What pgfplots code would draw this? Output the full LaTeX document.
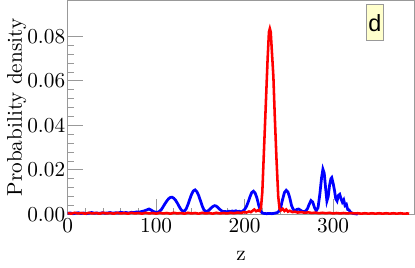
\documentclass[border=0pt]{standalone}
\usepackage{fontspec}
\usepackage{pgfplots}
\pgfplotsset{compat=1.18}
\newfontfamily\arialfont{Liberation Sans}
\definecolor{framegray}{gray}{0.6}
\definecolor{labelbg}{rgb}{1,1,0.8}
\begin{document}
\begin{tikzpicture}
\begin{axis}[
  scale only axis,
  width=163pt, height=100.5pt,
  xmin=0, xmax=392, ymin=0, ymax=0.0961,
  axis line style={framegray, line width=0.5pt},
  xtick={0,100,200,300},
  ytick={0,0.02,0.04,0.06,0.08},
  minor tick num=4,
  tick align=inside,
  xtick pos=left, ytick pos=left,
  tick style={framegray, line width=0.4pt},
  major tick length=7.3pt,
  minor tick length=2.8pt,
  scaled y ticks=false,
  yticklabel style={/pgf/number format/.cd, fixed, fixed zerofill, precision=2, /tikz/.cd, inner xsep=1pt},
  xticklabel style={inner ysep=2pt},
  xlabel={z},
  ylabel={Probability density},
  xlabel style={yshift=-3pt},
  ylabel style={yshift=-4pt},
  clip=false,
]
\addplot[blue, line width=1.3pt] coordinates {
(0,0.0004)(3,0.0006)(6,0.0003)(9,0.0005)(12,0.0007)(15,0.0004)(18,0.0006)(21,0.0003)(24,0.0005)(27,0.0008)(30,0.0005)(33,0.0006)(36,0.0004)(39,0.0007)(42,0.0005)(45,0.0006)(48,0.0008)(51,0.0005)(54,0.0007)(57,0.0006)(60,0.0009)(63,0.0007)(66,0.0008)(69,0.0006)(72,0.0009)(75,0.0008)(78,0.0011)(81,0.0010)(84,0.0013)(87,0.0016)(90,0.0021)(92,0.0024)(94,0.0020)(96,0.0015)(98,0.0011)(100,0.0009)(102,0.0010)(104,0.0014)(106,0.0022)(108,0.0035)(110,0.0048)(112,0.0060)(114,0.0070)(116,0.0076)(118,0.0077)(120,0.0072)(122,0.0063)(124,0.0050)(126,0.0035)(128,0.0022)(130,0.0014)(132,0.0015)(134,0.0025)(136,0.0045)(138,0.0068)(140,0.0090)(142,0.0105)(144,0.0110)(146,0.0102)(148,0.0085)(150,0.0062)(152,0.0038)(154,0.0020)(156,0.0013)(158,0.0014)(160,0.0020)(162,0.0028)(164,0.0035)(166,0.0039)(168,0.0037)(170,0.0030)(172,0.0022)(174,0.0016)(176,0.0012)(178,0.0013)(180,0.0011)(182,0.0014)(184,0.0012)(186,0.0015)(188,0.0013)(190,0.0016)(192,0.0012)(194,0.0014)(196,0.0011)(198,0.0015)(200,0.0022)(202,0.0035)(204,0.0055)(206,0.0078)(208,0.0098)(210,0.0104)(212,0.0095)(214,0.0072)(216,0.0040)(218,0.0015)(220,0.0006)(222,0.0004)(225,0.0003)(228,0.0004)(231,0.0003)(234,0.0005)(237,0.0008)(239,0.0015)(241,0.0035)(243,0.0068)(245,0.0098)(247,0.0108)(249,0.0100)(251,0.0075)(253,0.0040)(255,0.0022)(257,0.0016)(259,0.0022)(261,0.0024)(263,0.0019)(265,0.0014)(267,0.0012)(269,0.0015)(271,0.0025)(273,0.0045)(275,0.0062)(277,0.0055)(279,0.0030)(281,0.0016)(283,0.0030)(285,0.0090)(287,0.0165)(288.5,0.0203)(290,0.0185)(291.5,0.0120)(293,0.0060)(294.5,0.0080)(296,0.0130)(297.5,0.0160)(298.5,0.0165)(300,0.0140)(301.5,0.0110)(303,0.0070)(304.5,0.0060)(306,0.0085)(307.5,0.0090)(309,0.0070)(310.5,0.0055)(312,0.0065)(313.5,0.0040)(315,0.0045)(316.5,0.0022)(318,0.0020)(320,0.0008)(323,0.0004)(326,0.0002)(328,0.0001)
};
\addplot[red, line width=1.2pt] coordinates {
(0,0.0006)(4,0.0003)(8,0.0007)(12,0.0004)(16,0.0006)(20,0.0003)(24,0.0007)(28,0.0004)(32,0.0006)(36,0.0003)(40,0.0007)(44,0.0004)(48,0.0006)(52,0.0003)(56,0.0007)(60,0.0004)(64,0.0006)(68,0.0003)(72,0.0007)(76,0.0004)(80,0.0006)(84,0.0003)(88,0.0007)(92,0.0004)(96,0.0006)(100,0.0003)(104,0.0007)(108,0.0004)(112,0.0006)(116,0.0003)(120,0.0007)(124,0.0004)(128,0.0006)(132,0.0003)(136,0.0007)(140,0.0004)(144,0.0006)(148,0.0003)(152,0.0007)(156,0.0004)(160,0.0006)(164,0.0003)(168,0.0007)(172,0.0004)(176,0.0006)(180,0.0004)(184,0.0007)(188,0.0005)(192,0.0008)(196,0.0006)(199,0.0010)(202,0.0008)(205,0.0013)(207,0.0010)(209,0.0016)(211,0.0022)(213,0.0014)(215,0.0018)(217,0.0015)(218.5,0.0030)(220,0.0100)(222,0.0300)(224,0.0500)(226,0.0700)(227.5,0.0820)(228.5,0.0835)(229.5,0.0820)(231,0.0720)(232.5,0.0620)(234,0.0450)(236,0.0250)(238,0.0080)(239.5,0.0025)(241,0.0018)(243,0.0025)(245,0.0015)(247,0.0022)(249,0.0012)(251,0.0016)(254,0.0010)(257,0.0012)(260,0.0008)(264,0.0010)(268,0.0007)(272,0.0009)(276,0.0006)(280,0.0008)(284,0.0005)(288,0.0007)(292,0.0005)(296,0.0007)(300,0.0004)(304,0.0006)(308,0.0004)(312,0.0006)(316,0.0004)(320,0.0006)(324,0.0004)(328,0.0005)(332,0.0003)(336,0.0005)(340,0.0003)(344,0.0005)(348,0.0003)(352,0.0005)(356,0.0003)(360,0.0005)(364,0.0003)(368,0.0005)(372,0.0003)(376,0.0005)(380,0.0003)(384,0.0004)(386,0.0003)
};
\node[draw=framegray, fill=labelbg, font=\arialfont\fontsize{11}{13}\selectfont, inner sep=0pt, minimum width=8.4pt, minimum height=16.8pt] at (rel axis cs:0.886,0.896) {d};
\end{axis}
\end{tikzpicture}
\end{document}
